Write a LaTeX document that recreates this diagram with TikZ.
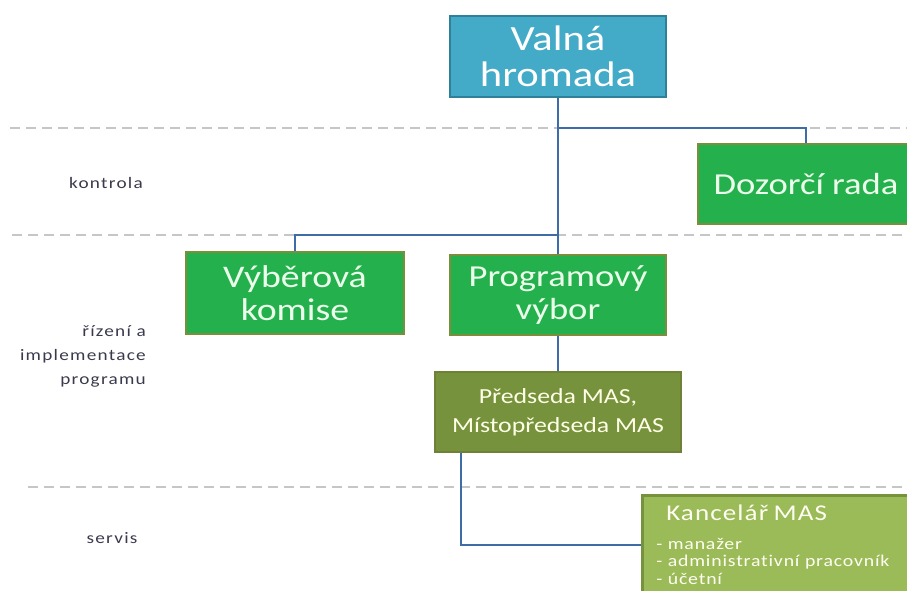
\documentclass[tikz,border=0pt]{standalone}
\usepackage{fontspec}
\setmainfont{Carlito}[FakeStretch=1.2, Ligatures=NoCommon]
\definecolor{aquaF}{HTML}{43ABC8}
\definecolor{aquaB}{HTML}{2F8199}
\definecolor{grnF}{HTML}{24B04D}
\definecolor{oliveB}{HTML}{7A8F3C}
\definecolor{oliveF}{HTML}{76923C}
\definecolor{lgrnF}{HTML}{9BBB59}
\definecolor{conn}{HTML}{3E6CA6}
\definecolor{dashc}{HTML}{C6C6C6}
\definecolor{lbl}{HTML}{3A3A4C}
\tikzset{
  box/.style={draw, line width=2.5pt, align=center, inner sep=0pt},
  topbox/.style={box, draw=aquaB, fill=aquaF, text=white, font=\fontsize{35.5}{36}\selectfont},
  grnbox/.style={box, draw=oliveB, fill=grnF, text=white!92!green, font=\fontsize{31}{33}\selectfont},
  olbox/.style={box, draw=oliveB!90!black, fill=oliveF, text=yellow!10!white, font=\fontsize{21.5}{29}\selectfont},
  conline/.style={draw=conn, line width=2.8pt},
  sepline/.style={draw=dashc, line width=1.5pt, dash pattern=on 10pt off 6pt},
  lab/.style={text=lbl, font=\fontsize{16}{24}\selectfont\addfontfeature{LetterSpace=8}, inner sep=0pt}
}
\begin{document}
\begin{tikzpicture}[x=1pt,y=-1pt]
\useasboundingbox (0,0) rectangle (907,591);
\clip (0,0) rectangle (907,591);
% separators
\draw[sepline] (10,128) -- (907,128);
\draw[sepline] (12,235) -- (907,235);
\draw[sepline] (28,487) -- (907,487);
% labels
\node[lab] (lk) at (106,183) {kontrola};
\node[lab, align=right, anchor=east] (lr) at (146,356) {řízení a\\implementace\\programu};
\node[lab] (ls) at (112,538) {servis};
% boxes
\node[topbox, minimum width=216pt, minimum height=81pt] (vh) at (558,56.5) {Valná\\hromada};
\node[grnbox, minimum width=216pt, minimum height=80pt, font=\fontsize{30.5}{35}\selectfont] (dr) at (806,184) {Dozorčí rada};
\node[grnbox, minimum width=218pt, minimum height=82pt, font=\fontsize{31.5}{33}\selectfont] (vk) at (295,293) {Výběrová\\komise};
\node[grnbox, minimum width=216pt, minimum height=80pt, font=\fontsize{30.5}{33}\selectfont] (pv) at (558,295) {Programový\\výbor};
\node[olbox, minimum width=246pt, minimum height=80pt] (pm) at (558,412) {Předseda MAS,\\Místopředseda MAS};
\node[box, draw=oliveF, fill=lgrnF, text=white!95!yellow, anchor=north west, align=left,
      minimum width=272pt, inner xsep=14pt, inner ysep=10pt, text width=248pt,
      font=\fontsize{16.5}{17.5}\selectfont\addfontfeature{LetterSpace=5}] (km) at (641,494)
  {\hspace*{10pt}{\fontsize{22.5}{26}\selectfont Kancelář MAS}\\[11pt]
   - manažer\\
   - administrativní pracovník\\
   - účetní\\[20pt]\mbox{}};
% connectors
\coordinate (j1) at (558,128);
\coordinate (j2) at (558,235);
\draw[conline] (vh.south) -- (pv.north);
\draw[conline] (j1) -| (dr.north);
\draw[conline] (j2) -| (vk.north);
\draw[conline] (pv.south) -- (pm.north);
\draw[conline] ([xshift=-97pt]pm.south) |- (km.west |- 0,545);
\end{tikzpicture}
\end{document}
